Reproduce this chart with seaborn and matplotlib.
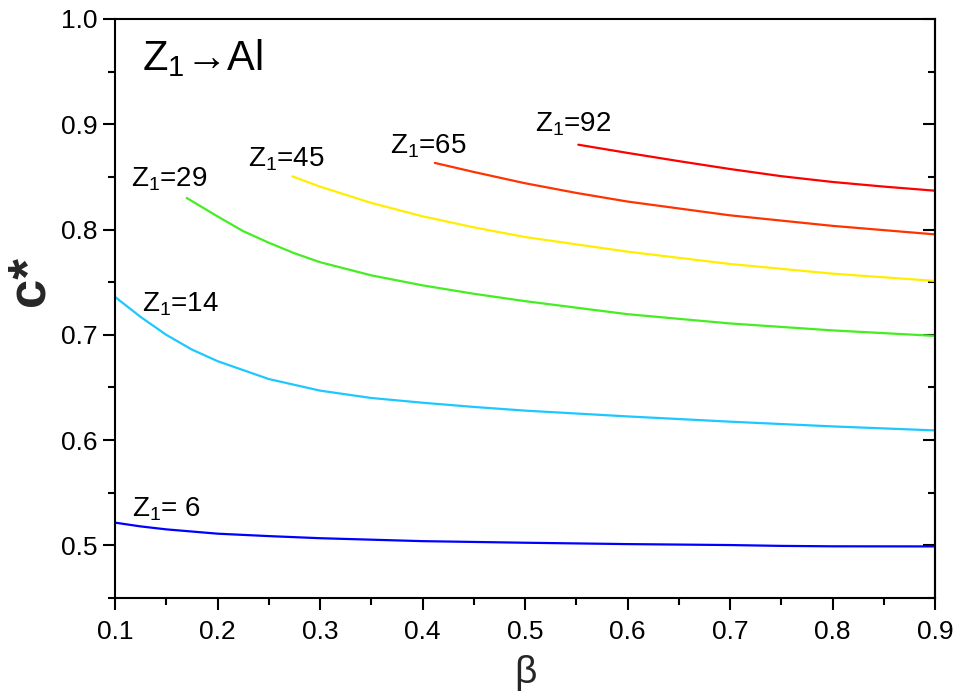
import matplotlib
matplotlib.use("Agg")
import matplotlib.pyplot as plt
from matplotlib.ticker import MultipleLocator, FormatStrFormatter
import pandas as pd
import seaborn as sns

# ---- data: c* versus beta for projectiles Z1 stopping in Al ----
beta_z6 = [0.10, 0.125, 0.15, 0.20, 0.25, 0.30, 0.40, 0.50, 0.60, 0.70, 0.75, 0.80, 0.90]
c_z6 = [0.5216, 0.518, 0.5152, 0.5111, 0.5088, 0.5068, 0.504, 0.5025, 0.5012, 0.5003, 0.4995, 0.4991, 0.499]

beta_z14 = [0.10, 0.125, 0.15, 0.175, 0.20, 0.25, 0.30, 0.35, 0.40, 0.45, 0.50, 0.60, 0.70, 0.80, 0.90]
c_z14 = [0.736, 0.717, 0.700, 0.686, 0.675, 0.658, 0.647, 0.640, 0.6355, 0.6315, 0.628, 0.6225, 0.6175, 0.613, 0.6092]

beta_z29 = [0.17, 0.20, 0.225, 0.25, 0.275, 0.30, 0.35, 0.40, 0.45, 0.50, 0.60, 0.70, 0.80, 0.90]
c_z29 = [0.830, 0.8125, 0.7985, 0.7875, 0.7775, 0.769, 0.7565, 0.747, 0.739, 0.732, 0.7196, 0.7108, 0.7042, 0.699]

beta_z45 = [0.273, 0.30, 0.35, 0.40, 0.45, 0.50, 0.60, 0.70, 0.80, 0.90]
c_z45 = [0.8505, 0.8408, 0.8253, 0.8126, 0.8021, 0.7929, 0.779, 0.7673, 0.7581, 0.7512]

beta_z65 = [0.412, 0.45, 0.50, 0.55, 0.60, 0.70, 0.80, 0.90]
c_z65 = [0.8633, 0.8547, 0.8440, 0.8348, 0.8266, 0.8135, 0.8035, 0.7954]

beta_z92 = [0.552, 0.60, 0.65, 0.70, 0.75, 0.80, 0.85, 0.90]
c_z92 = [0.8806, 0.8728, 0.8650, 0.8575, 0.8507, 0.8452, 0.8408, 0.8369]

z_values = [6, 14, 29, 45, 65, 92]
line_colors = ["#0000FF", "#1EC8FF", "#44EE22", "#FFEE00", "#FF3300", "#FF0000"]

# label anchor positions (beta, c*) for each curve's annotation
label_text = ["= 6", "=14", "=29", "=45", "=65", "=92"]
label_x = [0.1163, 0.126, 0.1153, 0.2298, 0.3683, 0.5098]
label_y = [0.5272, 0.722, 0.8407, 0.8597, 0.8718, 0.8927]

series = [(beta_z6, c_z6), (beta_z14, c_z14), (beta_z29, c_z29),
          (beta_z45, c_z45), (beta_z65, c_z65), (beta_z92, c_z92)]
frames = []
for z, (b, c) in zip(z_values, series):
    frames.append(pd.DataFrame({"beta": b, "c": c, "Z": z}))
df = pd.concat(frames, ignore_index=True)

# ---- style ----
sns.set_theme(style="ticks")
plt.rcParams["font.family"] = ["Liberation Sans", "DejaVu Sans"]
plt.rcParams["axes.linewidth"] = 1.5
plt.rcParams["xtick.major.width"] = 1.5
plt.rcParams["ytick.major.width"] = 1.5
plt.rcParams["xtick.minor.width"] = 1.5
plt.rcParams["ytick.minor.width"] = 1.5
plt.rcParams["axes.edgecolor"] = "black"
plt.rcParams["xtick.color"] = "black"
plt.rcParams["ytick.color"] = "black"

fig = plt.figure(figsize=(9.57, 6.95), dpi=100)
ax = fig.add_axes([115 / 957, 1 - 598 / 695, 820 / 957, 579 / 695])

sns.lineplot(data=df, x="beta", y="c", hue="Z", palette=line_colors,
             estimator=None, sort=False, legend=False, linewidth=1.6, ax=ax)

ax.set_xlim(0.1, 0.9)
ax.set_ylim(0.45, 1.0)

ax.xaxis.set_major_locator(MultipleLocator(0.1))
ax.xaxis.set_minor_locator(MultipleLocator(0.05))
ax.yaxis.set_major_locator(MultipleLocator(0.1))
ax.yaxis.set_minor_locator(MultipleLocator(0.05))
ax.xaxis.set_major_formatter(FormatStrFormatter("%.1f"))
ax.yaxis.set_major_formatter(FormatStrFormatter("%.1f"))

ax.tick_params(axis="x", which="both", direction="out", bottom=True, top=False,
               labelsize=19, pad=7)
ax.tick_params(axis="y", which="both", direction="out", left=True, right=False,
               labelsize=19, pad=4)
ax.tick_params(which="major", length=8.5)
ax.tick_params(which="minor", length=5.2)

for side in ["top", "right", "left", "bottom"]:
    ax.spines[side].set_visible(True)
    ax.spines[side].set_color("black")
    ax.spines[side].set_linewidth(1.5)

# inward ticks along the right edge
sec = ax.secondary_yaxis("right")
sec.yaxis.set_major_locator(MultipleLocator(0.1))
sec.yaxis.set_minor_locator(MultipleLocator(0.05))
sec.tick_params(axis="y", which="both", direction="in", labelright=False)
sec.tick_params(which="major", length=8.5, width=1.5)
sec.tick_params(which="minor", length=5.2, width=1.5)
sec.spines["right"].set_linewidth(1.5)

ax.set_xlabel("β", fontsize=28)
ax.xaxis.set_label_coords(0.5, -0.098)
ax.xaxis.label.set_verticalalignment("top")
ax.set_ylabel("c*", fontsize=38, fontweight="bold")
ax.yaxis.set_label_coords(-0.074, 0.5475)

# curve annotations
for txt, lx, ly in zip(label_text, label_x, label_y):
    ax.text(lx, ly, r"$\mathregular{Z_1}$" + txt, fontsize=20,
            ha="left", va="baseline", color="black")

ax.text(0.1263, 0.9516, r"$\mathregular{Z_1}$" + "\u2192Al", fontsize=30,
        ha="left", va="baseline", color="black")

fig.savefig("out.png", dpi=100)
